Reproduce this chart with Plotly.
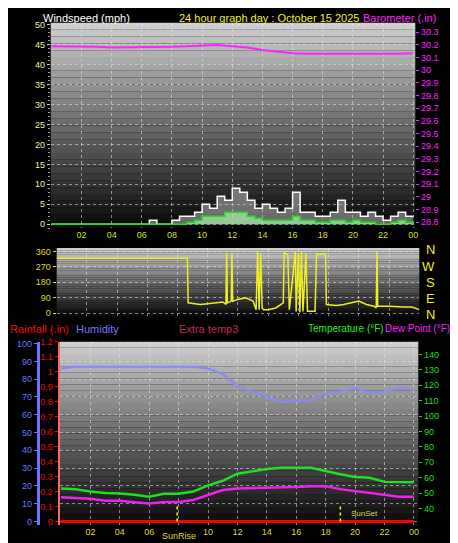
import plotly.graph_objects as go

W, H = 458, 543
FONT = "Liberation Sans"

# --- data ---
hours_half = [i * 0.5 for i in range(49)]
wind_gust = [0] * 13 + [1, 0, 0, 1, 2, 2, 3, 5, 4, 7, 6, 9, 8, 6, 4, 5, 4, 3, 4, 8, 3,
                        3, 2, 2, 3, 6, 3, 3, 2, 3, 2, 1, 2, 3, 2, 2]
wind_avg = [0] * 18 + [0.5, 1, 2, 2, 2, 3, 3, 3, 2, 1.5, 1, 1, 1, 1, 2, 1, 1, 0.5, 0.5,
                       1, 1, 0.5, 1, 0.5, 0.5, 0, 0, 0.5, 1, 0.5, 0]
hours = list(range(25))
baro = [30.19, 30.19, 30.185, 30.185, 30.18, 30.18, 30.18, 30.185, 30.185, 30.19, 30.195,
        30.2, 30.19, 30.18, 30.16, 30.145, 30.135, 30.13, 30.13, 30.125, 30.13, 30.125,
        30.13, 30.13, 30.135]

dir_t = [0, 8.65, 8.7, 9, 9.5, 10, 10.5, 11, 11.2, 11.25, 11.3, 11.55, 11.6, 11.65, 12, 12.5,
         13, 13.2, 13.3, 13.4, 13.5, 13.6, 13.7, 14, 14.5, 15, 15.05, 15.3, 15.4, 15.8, 15.85,
         16, 16.1, 16.2, 16.3, 16.5, 16.6, 17.1, 17.2, 17.8, 17.85, 18.5, 19, 19.5, 20, 20.5,
         21, 21.15, 21.2, 21.25, 22, 23, 23.5, 24]
dir_v = [320, 320, 60, 55, 50, 55, 60, 65, 50, 350, 60, 70, 350, 70, 80, 90, 70, 20, 360,
         20, 350, 30, 20, 20, 30, 60, 355, 340, 20, 360, 10, 350, 5, 360, 10, 350, 10, 10,
         345, 345, 50, 45, 50, 60, 70, 50, 40, 30, 360, 40, 40, 35, 35, 20]

humidity = [86, 87, 87, 87, 87, 87, 87, 87, 87, 87, 86, 83, 76, 73, 70, 67, 68, 68, 72,
            73, 75, 72, 73, 75, 74]
temp = [53, 52.5, 51, 50, 49.8, 49, 47.7, 49.6, 49.6, 51, 55, 58, 62.6, 64, 65.6, 66.5,
        66.5, 66.5, 64.4, 62.2, 60.5, 60, 57.3, 57, 57]
dewpt = [47.3, 46.8, 46.4, 45, 45, 44, 43.2, 44.3, 44.3, 45.5, 49, 52, 53, 53.2, 53.5, 53.8,
         54, 54.5, 54.5, 52.6, 51.3, 50, 49, 47.7, 47.7]
rain = [0] * 25
sun_events = [7.9, 19.0]

tick_h = list(range(2, 25, 2))
tick_txt = ["%02d" % (h % 24) for h in tick_h]
tick_txt3 = ["" if h == 8 else t for h, t in zip(tick_h, tick_txt)]


def px(x):
    return x / W


def py(y):
    return 1 - y / H


fig = go.Figure()

# panel 1: wind + barometer
fig.add_trace(go.Scatter(x=hours_half, y=wind_gust, mode="lines", line=dict(color="white", width=1.5, shape="hv"),
                         fill="tozeroy", fillcolor="rgba(200,200,200,0.5)", xaxis="x", yaxis="y"))
fig.add_trace(go.Scatter(x=hours_half, y=wind_avg, mode="lines", line=dict(color="#22dd22", width=1.5, shape="hv"),
                         fill="tozeroy", fillcolor="rgba(170,240,170,0.7)", xaxis="x", yaxis="y"))
fig.add_trace(go.Scatter(x=hours, y=baro, mode="lines", line=dict(color="#ff22ff", width=2),
                         xaxis="x", yaxis="y2"))

# panel 2: direction
fig.add_trace(go.Scatter(x=dir_t, y=dir_v, mode="lines", line=dict(color="#eeee22", width=1.5),
                         xaxis="x2", yaxis="y3"))

# panel 3
fig.add_trace(go.Scatter(x=hours, y=humidity, mode="lines", line=dict(color="#8888ff", width=2),
                         xaxis="x3", yaxis="y4"))
fig.add_trace(go.Scatter(x=hours, y=temp, mode="lines", line=dict(color="#22dd22", width=2.5),
                         xaxis="x3", yaxis="y6"))
fig.add_trace(go.Scatter(x=hours, y=dewpt, mode="lines", line=dict(color="#ee22ee", width=2.5),
                         xaxis="x3", yaxis="y6"))
fig.add_trace(go.Scatter(x=hours, y=rain, mode="lines", line=dict(color="red", width=3),
                         xaxis="x3", yaxis="y5"))
for s in sun_events:
    fig.add_trace(go.Scatter(x=[s, s], y=[0, 0.11], mode="lines", line=dict(color="yellow", width=1.5, dash="dot"),
                             xaxis="x3", yaxis="y5"))

# gradient backgrounds
shapes = []
panels = [(43, 410, 10, 218), (49, 414, 238, 307), (52, 413, 333, 519)]
for x0, x1, y0, y1 in panels:
    n = 30
    for i in range(n):
        g = int(205 - 195 * i / (n - 1))
        ya = y0 + (y1 - y0) * i / n
        yb = y0 + (y1 - y0) * (i + 1) / n
        shapes.append(dict(type="rect", xref="paper", yref="paper", x0=px(x0), x1=px(x1),
                           y0=py(yb), y1=py(ya), line=dict(width=0),
                           fillcolor=f"rgb({g},{g},{g})", layer="below"))

grid = dict(showgrid=True, gridcolor="rgba(230,230,230,0.55)", griddash="dot", gridwidth=1)
tf = dict(family=FONT, size=9)

fig.update_layout(
    width=W, height=H, margin=dict(l=0, r=0, t=0, b=0),
    paper_bgcolor="black", plot_bgcolor="rgba(0,0,0,0)", showlegend=False, shapes=shapes,
    xaxis=dict(domain=[px(43), px(410)], range=[-0.04, 24.14], tickvals=tick_h, ticktext=tick_txt,
               tickfont=dict(tf, color="#dddd22"), anchor="y", zeroline=False, **grid),
    yaxis=dict(domain=[py(218), py(10)], range=[-1, 50.5], dtick=5, tickfont=dict(tf, color="#eeeeaa"),
               zeroline=False, ticks="outside", ticklen=3, tickcolor="#ccc",
               minor=dict(dtick=1, ticks="outside", ticklen=2, tickcolor="#999"), **grid),
    yaxis2=dict(overlaying="y", side="right", range=[28.753, 30.374], dtick=0.1, anchor="x",
                tickfont=dict(tf, color="#ff22ff"), ticks="outside", ticklen=3, tickcolor="#ff22ff",
                showgrid=False, zeroline=False, tickformat="~g"),
    xaxis2=dict(domain=[px(49), px(414)], range=[0, 24], anchor="y3", showticklabels=False,
                zeroline=False, **grid, tickvals=tick_h),
    yaxis3=dict(domain=[py(307), py(238)], range=[-17.3, 381], tickvals=[0, 90, 180, 270, 360],
                tickfont=dict(tf, color="#dddd22"), anchor="x2", zeroline=False, ticks="outside",
                ticklen=3, tickcolor="#dddd22", **grid),
    xaxis3=dict(domain=[px(52), px(413)], range=[-0.09, 24.3], tickvals=tick_h, ticktext=tick_txt3,
                tickfont=dict(tf, color="#dddd22"), anchor="y5", zeroline=False, **grid),
    yaxis4=dict(domain=[py(519), py(333)], range=[-2.2, 101.1], dtick=10, anchor="free",
                position=px(30), tickfont=dict(tf, color="#6677ff"), showline=True, linecolor="#6677ff",
                linewidth=3, ticks="outside", ticklen=3, tickcolor="#6677ff", zeroline=False, **grid),
    yaxis5=dict(overlaying="y4", anchor="free", position=px(51), range=[-0.026, 1.2], dtick=0.1,
                tickfont=dict(tf, color="red"), showline=True, linecolor="#ff6666", linewidth=2,
                ticks="outside", ticklen=3, tickcolor="red", showgrid=False, zeroline=False,
                tickformat="~g"),
    yaxis6=dict(overlaying="y4", side="right", anchor="x3", range=[29.1, 148.3], tickvals=list(range(40, 141, 10)),
                tickfont=dict(tf, color="#22dd22"), ticks="outside", ticklen=3, tickcolor="#22dd22",
                showgrid=False, zeroline=False),
)

ann = [
    ("Windspeed (mph)", 33, 5, "white", "left", 11),
    ("24 hour graph day : October 15 2025", 170, 5, "#eeee22", "left", 11),
    ("Barometer (.in)", 433, 5, "#ff22ff", "right", 11),
    ("Rainfall (.in)", 0, 320, "red", "left", 11),
    ("Humidity", 66, 320, "#7777ff", "left", 11),
    ("Extra temp3", 170, 320, "#cc2255", "left", 11),
    ("Temperature (°F)", 300, 320, "#22ee22", "left", 10),
    ("Dew Point (°F)", 447, 320, "#ff22ff", "right", 10),
    ("SunRise", 172, 530, "#dddd22", "center", 9),
    ("SunSet", 343, 507, "#dddd22", "left", 8),
]
for t, x, y, c, a, s in ann:
    fig.add_annotation(text=t, x=px(x), y=py(y), xref="paper", yref="paper", xanchor=a, yanchor="middle",
                       showarrow=False, font=dict(family=FONT, size=s, color=c))
for t, y in zip(["N", "W", "S", "E", "N"], [240, 257, 273, 289, 305]):
    fig.add_annotation(text=t, x=px(432), y=py(y), xref="paper", yref="paper", showarrow=False,
                       font=dict(family=FONT, size=13, color="#eeee22"))

fig.write_html("out.html")
